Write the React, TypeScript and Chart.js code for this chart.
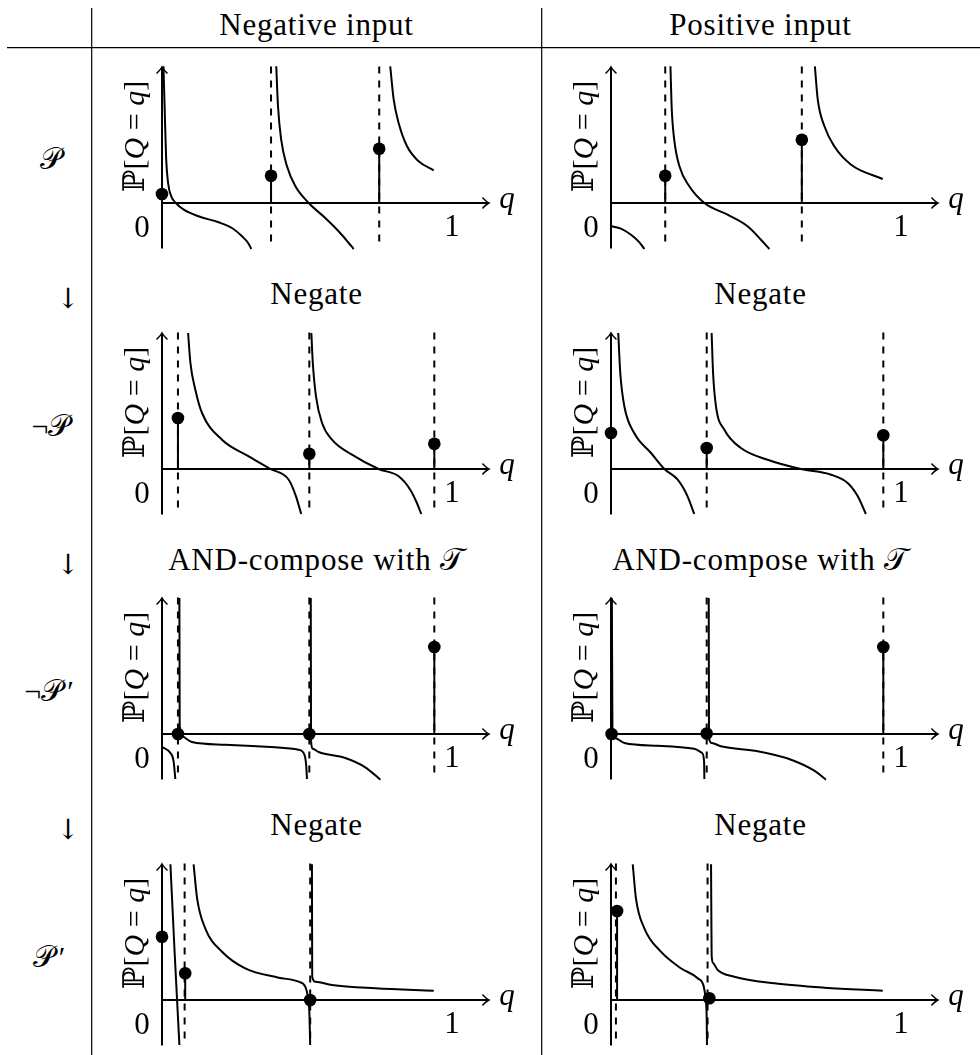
import React, { useEffect, useRef } from "react";
import { Chart, registerables } from "chart.js";
Chart.register(...registerables);

type Pt = [number, number];

const SERIF = '"Liberation Serif", "DejaVu Serif", serif';

// ---------- column / row headings ----------
const columnTitles = ["Negative input", "Positive input"];
const rowLabels = ["𝒫", "¬𝒫", "¬𝒫", "𝒫"];
const rowPrimes = ["", "", "′", "′"];
const stepTitles = ["Negate", "AND-compose with 𝒯", "Negate"];

// ---------- Row 1: 𝒫 ----------
const negP_branch1: Pt[] = [[0.005, 13.67], [0.009, 9.67], [0.014, 4.67], [0.021, 2.0], [0.032, 0.67], [0.048, 0], [0.075, -0.67], [0.126, -1.33], [0.195, -1.93], [0.241, -2.5], [0.276, -3.33], [0.297, -4.0], [0.308, -4.6]];
const negP_branch2: Pt[] = [[0.394, 13.67], [0.4, 9.67], [0.411, 6.33], [0.431, 3.67], [0.46, 1.67], [0.506, 0], [0.563, -1.5], [0.609, -2.83], [0.644, -4.0], [0.661, -4.6]];
const negP_branch3: Pt[] = [[0.787, 13.67], [0.799, 10.33], [0.816, 8.0], [0.845, 5.67], [0.885, 4.17], [0.937, 3.27]];
const negP_atomQ = [0, 0.376, 0.749];
const negP_atomP = [0.9, 2.73, 5.43];
const negP_poles = [0.376, 0.749];

const posP_branch1: Pt[] = [[0.002, -2.33], [0.034, -2.57], [0.069, -3.17], [0.098, -3.93], [0.115, -4.6]];
const posP_branch2: Pt[] = [[0.205, 13.67], [0.209, 9.67], [0.218, 6.33], [0.236, 3.67], [0.27, 1.67], [0.322, 0], [0.402, -1.17], [0.471, -2.33], [0.517, -3.67], [0.546, -4.6]];
const posP_branch3: Pt[] = [[0.703, 13.67], [0.713, 10.33], [0.736, 7.67], [0.77, 5.67], [0.828, 3.83], [0.937, 2.4]];
const posP_atomQ = [0.187, 0.658];
const posP_atomP = [2.73, 6.33];
const posP_poles = [0.187, 0.658];

// ---------- Row 2: ¬𝒫 ----------
const negNot_branch1: Pt[] = [[0.09, 13.6], [0.098, 10.6], [0.115, 7.93], [0.138, 5.6], [0.207, 2.93], [0.299, 1.27], [0.374, 0], [0.437, -1.07], [0.462, -2.73], [0.48, -4.5]];
const negNot_branch2: Pt[] = [[0.515, 13.6], [0.52, 10.6], [0.531, 7.27], [0.552, 4.6], [0.586, 2.93], [0.655, 1.43], [0.747, 0], [0.816, -0.73], [0.856, -2.07], [0.879, -3.4], [0.894, -4.5]];
const negNot_atomQ = [0.055, 0.508, 0.939];
const negNot_atomP = [5.1, 1.53, 2.53];
const negNot_poles = [0.055, 0.508, 0.939];

const posNot_branch1: Pt[] = [[0.025, 13.6], [0.032, 9.6], [0.046, 6.27], [0.08, 3.6], [0.138, 1.6], [0.184, 0], [0.23, -1.07], [0.264, -2.73], [0.287, -4.5]];
const posNot_branch2: Pt[] = [[0.347, 13.6], [0.352, 9.6], [0.362, 6.27], [0.391, 3.93], [0.448, 2.1], [0.54, 0.93], [0.655, 0], [0.759, -0.57], [0.816, -1.4], [0.851, -2.73], [0.879, -4.5]];
const posNot_atomQ = [0, 0.33, 0.939];
const posNot_atomP = [3.6, 2.1, 3.37];
const posNot_poles = [0.33, 0.939];

// ---------- Row 3: ¬𝒫′ ----------
const negNotT_branch0: Pt[] = [[0.002, -1.33], [0.029, -1.9], [0.04, -2.73], [0.046, -4.5]];
const negNotT_branch1: Pt[] = [[0.06, 13.6], [0.061, 0.93], [0.069, -0.23], [0.103, -0.8], [0.218, -1.07], [0.391, -1.33], [0.471, -1.57], [0.491, -2.07], [0.497, -3.07], [0.5, -4.5]];
const negNotT_branch2: Pt[] = [[0.513, 13.6], [0.514, -0.73], [0.52, -1.47], [0.54, -1.8], [0.632, -2.4], [0.701, -3.33], [0.753, -4.57]];
const negNotT_atomQ = [0.055, 0.508, 0.939];
const negNotT_atomP = [0, 0, 8.7];
const negNotT_poles = [0.055, 0.508, 0.939];

const posNotT_branch1: Pt[] = [[0.003, 13.6], [0.005, 0.43], [0.014, -0.4], [0.046, -0.9], [0.161, -1.17], [0.287, -1.47], [0.314, -1.9], [0.321, -2.73], [0.322, -4.5]];
const posNotT_branch2: Pt[] = [[0.337, 13.6], [0.338, -0.4], [0.347, -0.9], [0.379, -1.23], [0.506, -1.73], [0.621, -2.57], [0.701, -3.67], [0.741, -4.57]];
const posNotT_atomQ = [0.002, 0.33, 0.939];
const posNotT_atomP = [0, 0.05, 8.7];
const posNotT_poles = [0.33, 0.939];

// ---------- Row 4: 𝒫′ ----------
const negPp_branch1: Pt[] = [[0.029, 13.57], [0.044, 4.5], [0.06, -4.5]];
const negPp_branch2: Pt[] = [[0.109, 13.57], [0.121, 10.17], [0.149, 7.17], [0.207, 4.83], [0.287, 3.17], [0.402, 2.23], [0.471, 1.83], [0.494, 1.33], [0.503, 0.33], [0.508, -1.17], [0.511, -4.5]];
const negPp_branch3: Pt[] = [[0.517, 13.57], [0.518, 2.33], [0.529, 1.83], [0.586, 1.5], [0.736, 1.17], [0.937, 0.93]];
const negPp_atomQ = [0, 0.08, 0.511];
const negPp_atomP = [6.33, 2.67, 0];
const negPp_poles = [0.078, 0.511];

const posPp_branch1: Pt[] = [[0.075, 13.57], [0.086, 10.17], [0.115, 7.17], [0.172, 4.83], [0.241, 3.17], [0.299, 2.17], [0.32, 1.33], [0.326, 0.17], [0.33, -1.83], [0.331, -4.5]];
const posPp_branch2: Pt[] = [[0.345, 13.57], [0.347, 4.5], [0.352, 3.7], [0.368, 3.0], [0.425, 2.33], [0.563, 1.67], [0.736, 1.23], [0.937, 0.93]];
const posPp_atomQ = [0.021, 0.339];
const posPp_atomP = [8.9, 0.17];
const posPp_poles = [0.017, 0.333];

// ---------- axis extents (data units) ----------
const POLE_TOP = 13.65;
const POLE_BOTTOM = -4.55;
const AXIS_Y_TOP = 13.6;
const AXIS_Y_BOTTOM = -4.55;
const AXIS_X_END = 1.127;

interface Panel {
  branches: Pt[][];
  atomQ: number[];
  atomP: number[];
  poles: number[];
}

const panels: Panel[][] = [
  [
    { branches: [negP_branch1, negP_branch2, negP_branch3], atomQ: negP_atomQ, atomP: negP_atomP, poles: negP_poles },
    { branches: [posP_branch1, posP_branch2, posP_branch3], atomQ: posP_atomQ, atomP: posP_atomP, poles: posP_poles },
  ],
  [
    { branches: [negNot_branch1, negNot_branch2], atomQ: negNot_atomQ, atomP: negNot_atomP, poles: negNot_poles },
    { branches: [posNot_branch1, posNot_branch2], atomQ: posNot_atomQ, atomP: posNot_atomP, poles: posNot_poles },
  ],
  [
    { branches: [negNotT_branch0, negNotT_branch1, negNotT_branch2], atomQ: negNotT_atomQ, atomP: negNotT_atomP, poles: negNotT_poles },
    { branches: [posNotT_branch1, posNotT_branch2], atomQ: posNotT_atomQ, atomP: posNotT_atomP, poles: posNotT_poles },
  ],
  [
    { branches: [negPp_branch1, negPp_branch2, negPp_branch3], atomQ: negPp_atomQ, atomP: negPp_atomP, poles: negPp_poles },
    { branches: [posPp_branch1, posPp_branch2], atomQ: posPp_atomQ, atomP: posPp_atomP, poles: posPp_poles },
  ],
];

// ---------- layout (pixels) ----------
const ORIGIN_X = [162, 611];
const ORIGIN_Y = [203, 469, 734, 1000];
const X_MIN = -0.2;
const X_MAX = 1.3;
const Y_MIN = -6;
const Y_MAX = 15;
const CANVAS_W = 435;
const CANVAS_H = 210;
const LEFT_PAD = 58;
const TOP_PAD = 150;

const LW = 2;

const axesPlugin = {
  id: "mathAxes",
  beforeDatasetsDraw(chart: any) {
    const { ctx, scales } = chart;
    const X = (v: number) => scales.x.getPixelForValue(v);
    const Y = (v: number) => scales.y.getPixelForValue(v);
    ctx.save();
    ctx.strokeStyle = "#000";
    ctx.lineWidth = LW;
    ctx.lineCap = "butt";
    // x axis
    ctx.beginPath();
    ctx.moveTo(X(0), Y(0));
    ctx.lineTo(X(AXIS_X_END) - 1, Y(0));
    ctx.stroke();
    // y axis
    ctx.beginPath();
    ctx.moveTo(X(0), Y(AXIS_Y_BOTTOM));
    ctx.lineTo(X(0), Y(AXIS_Y_TOP) + 1);
    ctx.stroke();
    // arrow heads
    ctx.lineWidth = 1.6;
    ctx.lineCap = "round";
    const tx = X(AXIS_X_END), ty = Y(0);
    ctx.beginPath();
    ctx.moveTo(tx - 6, ty - 5);
    ctx.quadraticCurveTo(tx - 2, ty - 1, tx, ty);
    ctx.quadraticCurveTo(tx - 2, ty + 1, tx - 6, ty + 5);
    ctx.stroke();
    const ux = X(0), uy = Y(AXIS_Y_TOP);
    ctx.beginPath();
    ctx.moveTo(ux - 5, uy + 6);
    ctx.quadraticCurveTo(ux - 1, uy + 2, ux, uy);
    ctx.quadraticCurveTo(ux + 1, uy + 2, ux + 5, uy + 6);
    ctx.stroke();

    // labels
    ctx.fillStyle = "#000";
    ctx.textBaseline = "alphabetic";
    ctx.font = `italic 31px ${SERIF}`;
    ctx.textAlign = "left";
    ctx.fillText("q", X(1.163), Y(-0.5));
    ctx.font = `31px ${SERIF}`;
    ctx.textAlign = "center";
    ctx.fillText("0", X(-0.069), Y(-3.35));
    ctx.fillText("1", X(1.0), Y(-3.25));

    // rotated y label  ℙ[Q = q]
    const runs: [string, boolean][] = [["ℙ", false], ["[", false], ["Q", true], [" = ", false], ["q", true], ["]", false]];
    const widths = runs.map(([t, it]) => {
      ctx.font = `${it ? "italic " : ""}30px ${SERIF}`;
      return ctx.measureText(t).width;
    });
    const total = widths.reduce((a, b) => a + b, 0);
    ctx.translate(X(-0.063), Y(6.66));
    ctx.rotate(-Math.PI / 2);
    ctx.textAlign = "left";
    let cx = -total / 2;
    runs.forEach(([t, it], i) => {
      ctx.font = `${it ? "italic " : ""}30px ${SERIF}`;
      ctx.fillText(t, cx, 0);
      cx += widths[i];
    });
    ctx.restore();
  },
};

function PanelChart({ panel, left, top }: { panel: Panel; left: number; top: number }) {
  const ref = useRef<HTMLCanvasElement>(null);
  useEffect(() => {
    const datasets: any[] = [];
    panel.poles.forEach((p) => {
      datasets.push({
        data: [{ x: p, y: POLE_TOP }, { x: p, y: POLE_BOTTOM }],
        showLine: true,
        borderColor: "#000",
        borderWidth: 2,
        borderDash: [7, 7],
        pointRadius: 0,
        order: 3,
      });
    });
    panel.branches.forEach((b) => {
      datasets.push({
        data: b.map(([x, y]) => ({ x, y })),
        showLine: true,
        borderColor: "#000",
        borderWidth: LW,
        pointRadius: 0,
        cubicInterpolationMode: "monotone",
        order: 2,
      });
    });
    panel.atomQ.forEach((q, i) => {
      datasets.push({
        data: [{ x: q, y: 0 }, { x: q, y: panel.atomP[i] }],
        showLine: true,
        borderColor: "#000",
        borderWidth: LW,
        pointRadius: 0,
        order: 1,
      });
    });
    datasets.push({
      data: panel.atomQ.map((q, i) => ({ x: q, y: panel.atomP[i] })),
      showLine: false,
      pointRadius: 6.3,
      pointBackgroundColor: "#000",
      pointBorderWidth: 0,
      order: 0,
    });
    const chart = new Chart(ref.current!, {
      type: "scatter",
      data: { datasets },
      options: {
        responsive: false,
        animation: false,
        devicePixelRatio: 1,
        events: [],
        layout: { padding: 0, autoPadding: false },
        plugins: { legend: { display: false }, tooltip: { enabled: false } },
        scales: {
          x: { type: "linear", min: X_MIN, max: X_MAX, display: false },
          y: { type: "linear", min: Y_MIN, max: Y_MAX, display: false },
        },
      },
      plugins: [axesPlugin],
    } as any);
    return () => chart.destroy();
  }, [panel]);
  return (
    <canvas
      ref={ref}
      width={CANVAS_W}
      height={CANVAS_H}
      style={{ position: "absolute", left, top, width: CANVAS_W, height: CANVAS_H }}
    />
  );
}

export default function App() {
  const colCenters = [316.5, 760.5];
  const stepBaselines = [304, 570, 835];
  const rowLabelBaselines = [169, 436, 701, 967];
  const textStyle: React.CSSProperties = { fontFamily: SERIF, fontSize: 31, letterSpacing: 0.8 };
  const labelStyle: React.CSSProperties = { fontFamily: SERIF, fontSize: 30 };
  return (
    <div style={{ position: "absolute", left: 0, top: 0, width: 980, height: 1055, overflow: "hidden", background: "#fff" }}>
      <svg width={980} height={1055} style={{ position: "absolute", left: 0, top: 0 }}>
        <line x1={7} y1={47.7} x2={980} y2={47.7} stroke="#000" strokeWidth={1.2} />
        <line x1={91.7} y1={8} x2={91.7} y2={1055} stroke="#000" strokeWidth={1.2} />
        <line x1={541.7} y1={8} x2={541.7} y2={1055} stroke="#000" strokeWidth={1.2} />
        {columnTitles.map((t, i) => (
          <text key={t} x={colCenters[i]} y={35} textAnchor="middle" style={textStyle}>{t}</text>
        ))}
        {stepTitles.map((t, r) =>
          colCenters.map((cx, c) => (
            <text key={`${r}-${c}`} x={cx} y={stepBaselines[r]} textAnchor="middle" style={textStyle}>{t}</text>
          ))
        )}
        {stepBaselines.map((b, r) => (
          <text key={`arr${r}`} x={68} y={b + 4} textAnchor="middle" style={{ fontFamily: '"DejaVu Serif", serif', fontSize: 28 }}>↓</text>
        ))}
        {rowLabels.map((t, r) => (
          <text key={`rl${r}`} x={rowPrimes[r] ? 49 : 51} y={rowLabelBaselines[r]} textAnchor="middle" style={labelStyle}>
            {t}
            {rowPrimes[r] ? <tspan dx={4} style={{ fontFamily: SERIF, fontSize: 30 }}>{rowPrimes[r]}</tspan> : null}
          </text>
        ))}
      </svg>
      {panels.map((row, r) =>
        row.map((p, c) => (
          <PanelChart key={`${r}-${c}`} panel={p} left={ORIGIN_X[c] - LEFT_PAD} top={ORIGIN_Y[r] - TOP_PAD} />
        ))
      )}
    </div>
  );
}
